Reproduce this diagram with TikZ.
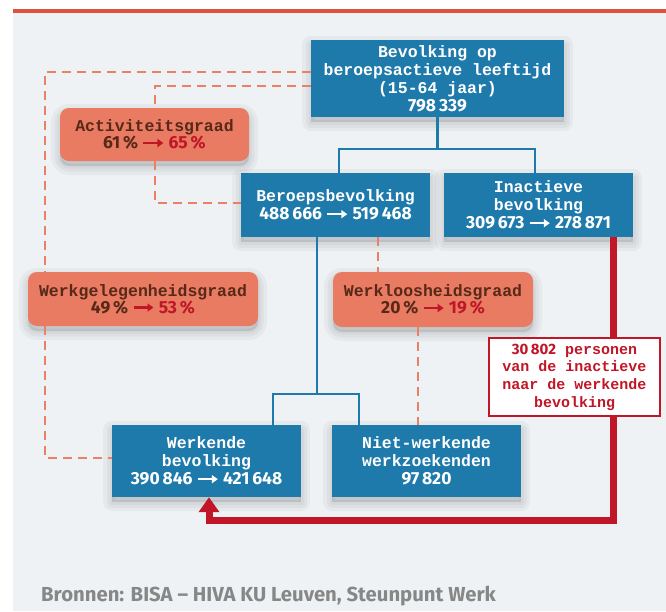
\documentclass[tikz,border=0pt]{standalone}
\usepackage{fontspec}
\setmainfont{Liberation Mono}
\newfontfamily\numf{Fira Sans}
\newfontfamily\footf{Fira Sans}
\usetikzlibrary{arrows.meta}
\definecolor{boxblue}{RGB}{31,122,172}
\definecolor{salmon}{RGB}{232,123,98}
\definecolor{dashc}{RGB}{236,128,100}
\definecolor{brownt}{RGB}{88,40,25}
\definecolor{redc}{RGB}{192,22,40}
\definecolor{panel}{RGB}{238,242,244}
\definecolor{topred}{RGB}{224,82,64}
\definecolor{footgrey}{RGB}{135,135,135}
\newcommand\nm[1]{{\numf\bfseries\fontsize{17.5}{18}\selectfont #1}}
\newcommand\rarr[1]{\tikz[baseline=-0.6ex]\draw[#1,line width=2.2pt,-{Triangle[length=6pt,width=8pt]}] (0pt,0pt) -- (20pt,0pt);}
\tikzset{
  shl/.style={preaction={draw=black, fill=black, draw opacity=0.035, fill opacity=0.035,
      line width=#1, line join=round, transform canvas={yshift=-5pt}}},
  shad/.style={shl=18pt, shl=11pt, shl=5pt},
  bluebox/.style={shad, fill=boxblue, text=white, minimum width=189pt, inner sep=0pt, align=center,
    font=\bfseries\fontsize{16.5}{18}\selectfont},
  salbox/.style={shad, fill=salmon, text=brownt, rounded corners=9pt, inner sep=0pt, align=center,
    font=\bfseries\fontsize{16.5}{17}\selectfont},
  redbox/.style={fill=white, draw=redc, line width=2pt, text=redc, inner sep=0pt, align=center,
    minimum width=171pt, minimum height=78pt, font=\bfseries\fontsize{15}{17.7}\selectfont},
  bconn/.style={draw=boxblue, line width=2.2pt},
  dconn/.style={draw=dashc, line width=2.8pt, dash pattern=on 9pt off 6pt},
  redline/.style={draw=redc, line width=7pt, -{Triangle[width=20pt,length=15pt]}}
}
\begin{document}
\begin{tikzpicture}[x=1pt,y=-1pt]
\useasboundingbox (0,0) rectangle (666,611);
\fill[white] (0,0) rectangle (666,611);
\fill[panel] (13,13) rectangle (666,611);
\draw[topred,line width=3.5pt] (13,11) -- (666,11);

\node[bluebox, minimum width=253pt, minimum height=77pt] (top) at (437.5,78.5)
  {Bevolking op\\beroepsactieve leeftijd\\(15-64 jaar)\\\nm{798\,339}};
\node[bluebox, minimum height=64pt] (beroeps) at (335.5,205)
  {Beroepsbevolking\\\nm{488\,666 \rarr{white} 519\,468}};
\node[bluebox, minimum height=64pt] (inact) at (538.5,205)
  {Inactieve\\bevolking\\\nm{309\,673 \rarr{white} 278\,871}};
\node[bluebox, minimum height=72pt] (werk) at (206.5,461)
  {Werkende\\bevolking\\\nm{390\,846 \rarr{white} 421\,648}};
\node[bluebox, minimum height=72pt] (niet) at (426.5,461)
  {Niet-werkende\\werkzoekenden\\\nm{97\,820}};

\node[salbox, minimum width=189pt, minimum height=53pt] (activ) at (154.5,134.5)
  {Activiteitsgraad\\\nm{61\,\% \rarr{redc} \color{redc}65\,\%}};
\node[salbox, minimum width=230pt, minimum height=54pt] (werkgel) at (143,299)
  {Werkgelegenheidsgraad\\\nm{49\,\% \rarr{redc} \color{redc}53\,\%}};
\node[salbox, minimum width=200pt, minimum height=55pt] (werkloos) at (433,299.5)
  {Werkloosheidsgraad\\\nm{20\,\% \rarr{redc} \color{redc}19\,\%}};

% blue connectors
\coordinate (j1) at (437.5,149);
\draw[bconn] (top.south) -- (j1);
\draw[bconn] ([xshift=3.5pt]beroeps.north) |- (j1) -| ([xshift=-3.5pt]inact.north);
\coordinate (j2) at (317,394);
\draw[bconn] (j2 |- beroeps.south) -- (j2);
\draw[bconn] ([xshift=-28pt]werk.north east) |- (j2) -| ([xshift=27pt]niet.north west);

% dashed connectors
\coordinate (d1) at (45,72); \coordinate (d2) at (45,458);
\draw[dconn] (top.west |- d1) -- (d1) -- (werkgel.north -| d1);
\draw[dconn] (werkgel.south -| d1) -- (d2) -- (werk.west |- d2);
\coordinate (d3) at (155,86); \coordinate (d4) at (155,203);
\draw[dconn] (top.west |- d3) -- (d3) -- (activ.north -| d3);
\draw[dconn] (activ.south -| d3) -- (d4) -- (beroeps.west |- d4);
\coordinate (d5) at (378,250); \coordinate (d6) at (418,380);
\draw[dconn] (beroeps.south -| d5) -- (werkloos.north -| d5);
\draw[dconn] (werkloos.south -| d6) -- (niet.north -| d6);

% red flow
\coordinate (rc) at (613,520); \coordinate (lc) at (209,520);
\draw[redline] (rc |- inact.south) -- (rc) -- (lc) -- (lc |- werk.south);
\node[redbox] (rb) at (574.5,377)
  {\nm{\fontsize{15}{17.7}\selectfont 30\,802} personen\\van de inactieve\\naar de werkende\\bevolking};

\node[anchor=base west, inner sep=0pt, text=footgrey, font=\footf\bfseries\fontsize{20.3}{22}\selectfont] (src) at (41,601)
  {Bronnen: BISA – HIVA KU Leuven, Steunpunt Werk};
\end{tikzpicture}
\end{document}
